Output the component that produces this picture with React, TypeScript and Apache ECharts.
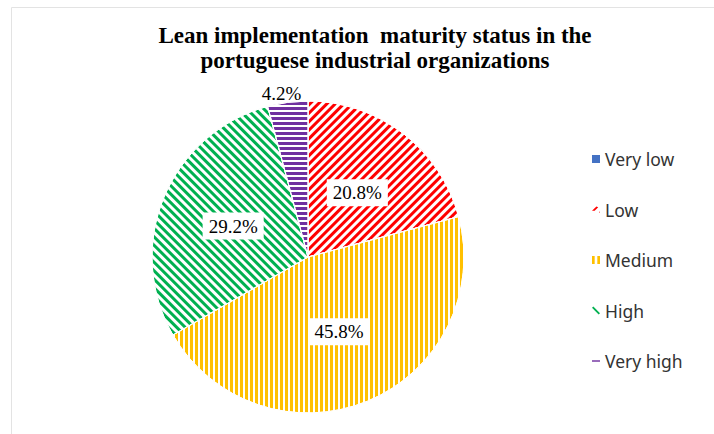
import React, { useEffect, useRef } from "react";
import * as echarts from "echarts";

const titleLines = ["Lean implementation  maturity status in the", "portuguese industrial organizations"];
const categories = ["Very low", "Low", "Medium", "High", "Very high"];
const counts = [0, 5, 11, 7, 1];
const colors = ["#4472C4", "#FF0000", "#FFC000", "#00B050", "#7030A0"];

const legendIcons = [
  "rect",
  "path://M0,7 L5,2 L7,3 L3,7 Z M8,8 L9,8 L9,9 L8,9 Z",
  "path://M0,0 L3,0 L3,9 L0,9 Z M6,0 L9,0 L9,9 L6,9 Z",
  "path://M0,1.5 L1.5,0 L9,7.5 L7.5,9 Z",
  "path://M0,4 L9,4 L9,5.6 L0,5.6 Z",
];

const decals = [
  null,
  { dashArrayY: [2.5, 3], rotation: -Math.PI / 4 },
  { dashArrayY: [1.7, 2.6], rotation: Math.PI / 2 },
  { dashArrayY: [2.5, 3], rotation: Math.PI / 4 },
  { dashArrayY: [2, 2.5], rotation: 0 },
];

export default function App() {
  const ref = useRef<HTMLDivElement>(null);
  useEffect(() => {
    if (!ref.current) return;
    const chart = echarts.init(ref.current, undefined, { renderer: "svg" });
    const data = categories.map((name, i) => {
      const d: any = {
        name,
        value: counts[i],
        itemStyle: {
          color: colors[i],
          borderWidth: counts[i] === 0 ? 0 : 1,
          borderColor: "#fff",
        },
      };
      if (decals[i]) {
        d.itemStyle.decal = {
          symbol: "rect",
          symbolSize: 1,
          color: "#ffffff",
          dashArrayX: [1, 0],
          dashArrayY: decals[i]!.dashArrayY,
          rotation: decals[i]!.rotation,
        };
      }
      if (counts[i] === 0) {
        d.label = { show: false };
      }
      if (i === 4) {
        d.label = {
          position: "outside",
          backgroundColor: "transparent",
          padding: 0,
        };
        d.labelLine = { show: false, length: 9, length2: 0 };
      }
      return d;
    });
    chart.setOption({
      animation: false,
      backgroundColor: "#ffffff",
      title: {
        text: titleLines.join("\n"),
        left: 370,
        top: 18,
        textAlign: "center",
        textStyle: {
          fontFamily: "Liberation Serif",
          fontWeight: "bold",
          fontSize: 23,
          lineHeight: 25,
          color: "#000",
        },
      },
      legend: {
        orient: "vertical",
        left: 592,
        top: 150,
        padding: 0,
        itemWidth: 8,
        itemHeight: 8,
        itemGap: 32.5,
        textStyle: {
          fontFamily: "Noto Sans",
          fontSize: 17.5,
          lineHeight: 17,
          color: "#333",
        },
        data: categories.map((name, i) => ({
          name,
          icon: legendIcons[i],
          itemStyle: { decal: "none", borderWidth: 0 },
        })),
      },
      graphic: [
        {
          type: "rect",
          z: -1,
          shape: { x: 11.5, y: 7.5, width: 800, height: 600 },
          style: { fill: "none", stroke: "#e3e3e3", lineWidth: 1 },
          silent: true,
        },
      ],
      series: [
        {
          type: "pie",
          center: [308, 257],
          radius: 156,
          startAngle: 90,
          clockwise: true,
          percentPrecision: 1,
          avoidLabelOverlap: false,
          label: {
            show: true,
            position: "inside",
            formatter: (p: any) => p.percent.toFixed(1) + "%",
            fontFamily: "Liberation Serif",
            fontSize: 19,
            color: "#000",
            backgroundColor: "#fff",
            padding: [4, 6],
          },
          labelLine: { show: false },
          labelLayout: (p: any) => (p.dataIndex === 4 ? { align: "center" } : {}),
          emphasis: { disabled: true },
          data,
        },
      ],
    });
    return () => chart.dispose();
  }, []);
  return (
    <div
      ref={ref}
      style={{ position: "fixed", left: 0, top: 0, width: 714, height: 434, background: "#fff" }}
    />
  );
}
